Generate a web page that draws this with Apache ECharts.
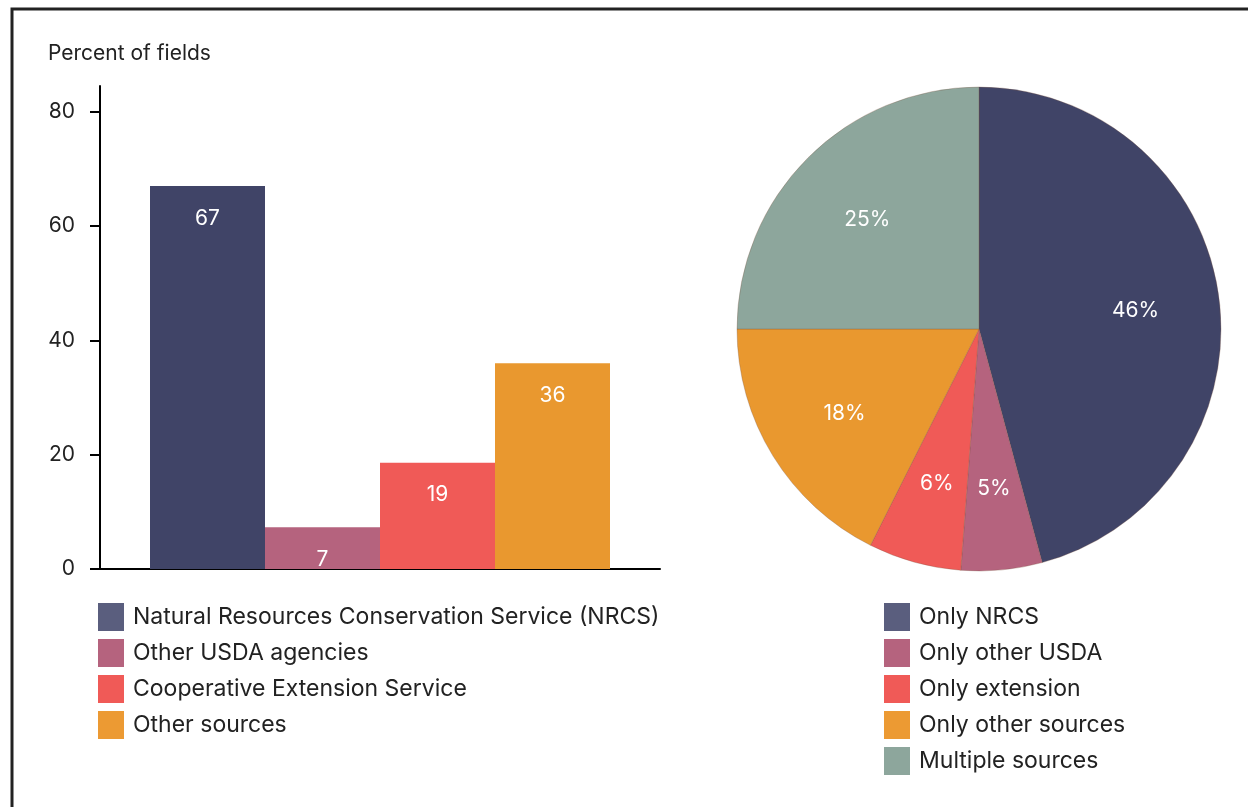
<!DOCTYPE html>
<html>
<head>
<meta charset="utf-8">
<script src="https://cdn.jsdelivr.net/npm/echarts@6/dist/echarts.min.js"></script>
<style>
html,body{margin:0;padding:0;background:#fff;}
#chart{width:1248px;height:807px;}
</style>
</head>
<body>
<div id="chart"></div>
<script>
// ---- Data ----
const barNames = ['Natural Resources Conservation Service (NRCS)', 'Other USDA agencies', 'Cooperative Extension Service', 'Other sources'];
const barValues = [67, 7.3, 18.6, 36];
const barColors = ['#404467', '#B5637E', '#F05A57', '#E9982F'];
const barLegendColors = ['#5A5E7E', '#B5637E', '#F05A57', '#EC9A33'];
const yTicks = [0, 20, 40, 60, 80];
const yTitle = 'Percent of fields';

const pieNames = ['Only NRCS', 'Only other USDA', 'Only extension', 'Only other sources', 'Multiple sources'];
const pieValues = [45.8, 5.4, 6.2, 17.6, 25.0];
const pieColors = ['#404467', '#B5637E', '#F05A57', '#E9982F', '#8DA69C'];
const pieLegendColors = ['#5A5E7E', '#B5637E', '#F05A57', '#EC9A33', '#8DA69C'];

const FONT = 'Inter, "Noto Sans", sans-serif';
const chart = echarts.init(document.getElementById('chart'));

const barSeries = barNames.map((n, i) => ({
  type: 'bar',
  name: n,
  data: [barValues[i]],
  barWidth: 115,
  barGap: '0%',
  itemStyle: { color: barColors[i] },
  label: {
    show: true, position: 'insideTop', distance: 22,
    color: '#fff', fontSize: 21, fontFamily: FONT,
    formatter: p => Math.round(p.value)
  }
}));

const pieData = pieNames.map((n, i) => ({ name: n, value: pieValues[i], itemStyle: { color: pieColors[i] } }));

const legendText = { fontSize: 23, color: '#222', fontFamily: FONT, lineHeight: 28, padding: [0, 0, 0, 4] };

chart.setOption({
  animation: false,
  backgroundColor: '#fff',
  textStyle: { fontFamily: FONT },
  title: {
    text: yTitle, left: 48, top: 43, padding: 0,
    textStyle: { fontSize: 21, fontWeight: 'normal', color: '#222', fontFamily: FONT }
  },
  grid: { left: 100, right: 588, top: 86, bottom: 238, containLabel: false },
  xAxis: {
    type: 'category', data: [''],
    axisLine: { lineStyle: { color: '#000', width: 2 } },
    axisTick: { show: false }, axisLabel: { show: false }
  },
  yAxis: {
    type: 'value', min: 0, max: 84.5, interval: 20,
    splitLine: { show: false },
    axisLine: { show: true, lineStyle: { color: '#000', width: 2 } },
    axisTick: { show: true, length: 10, lineStyle: { color: '#000', width: 2 }, customValues: yTicks },
    axisLabel: { customValues: yTicks, fontSize: 21, color: '#222', margin: 25, fontFamily: FONT, padding: [4, 0, 0, 0] }
  },
  legend: [
    {
      orient: 'vertical', left: 98, top: 603, padding: 0,
      itemWidth: 26, itemHeight: 28, itemGap: 8,
      icon: 'rect',
      textStyle: legendText,
      data: barNames.map((n, i) => ({ name: n, itemStyle: { color: barLegendColors[i], borderWidth: 0 } }))
    },
    {
      orient: 'vertical', left: 884, top: 603, padding: 0,
      itemWidth: 26, itemHeight: 28, itemGap: 8,
      icon: 'rect',
      itemStyle: { borderWidth: 0 },
      textStyle: legendText,
      data: pieNames.map((n, i) => ({ name: n, itemStyle: { color: pieLegendColors[i], borderWidth: 0 } }))
    }
  ],
  series: barSeries.concat([
    {
      type: 'pie', name: 'pie',
      center: [979, 329], radius: 242,
      startAngle: 90, clockwise: true,
      label: { show: false }, labelLine: { show: false },
      itemStyle: { borderWidth: 0.5, borderColor: 'rgba(120,80,60,0.6)' },
      emphasis: { disabled: true },
      data: pieData
    },
    {
      type: 'pie', name: 'pieLabels', silent: true,
      center: [979, 331], radius: [68, 242],
      startAngle: 90, clockwise: true,
      itemStyle: { color: 'rgba(0,0,0,0)' },
      label: {
        show: true, position: 'inside', color: '#fff', fontSize: 21, fontFamily: FONT,
        formatter: p => Math.round(p.value) + '%'
      },
      labelLine: { show: false },
      data: pieNames.map((n, i) => ({ name: n, value: pieValues[i], itemStyle: { color: 'rgba(0,0,0,0)' } }))
    }
  ]),
  graphic: [
    {
      type: 'polyline',
      shape: { points: [[12, 807], [12, 9], [1248, 9]] },
      style: { stroke: '#222', lineWidth: 3, fill: null },
      silent: true
    }
  ]
});
</script>
</body>
</html>
